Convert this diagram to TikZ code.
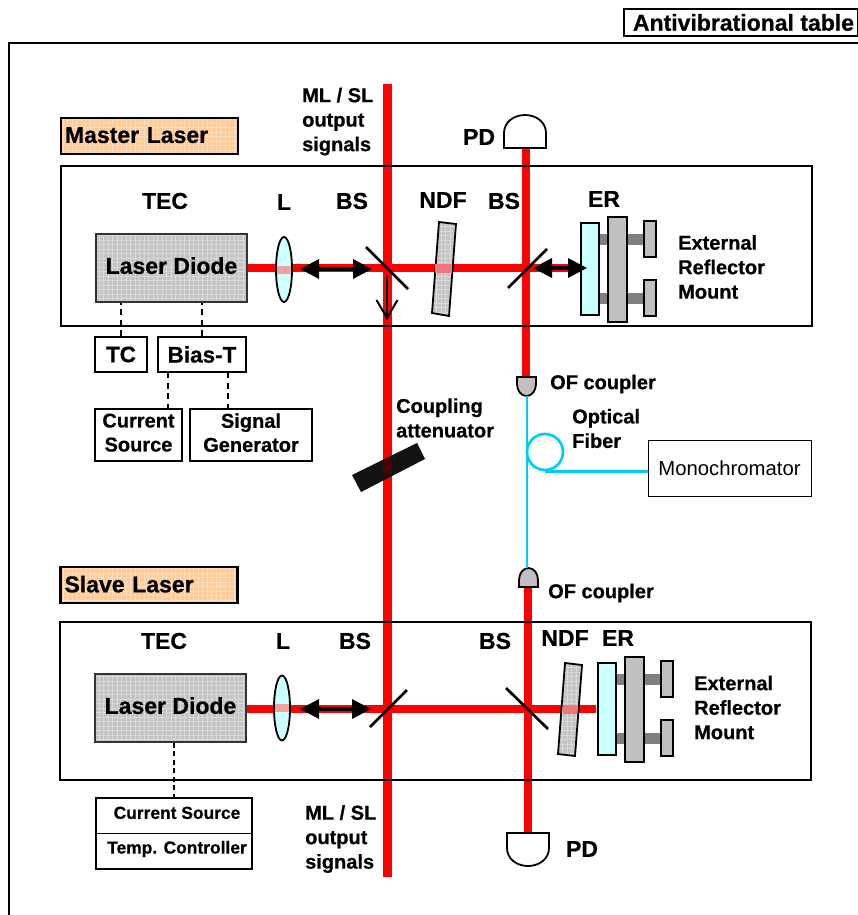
\documentclass[tikz,border=0pt]{standalone}
\usepackage{fontspec}
\setmainfont[BoldFeatures={FakeBold=0.6}]{Liberation Sans}
\usetikzlibrary{arrows.meta, patterns.meta, positioning}
\definecolor{beamred}{HTML}{FF0000}
\definecolor{fiberblue}{HTML}{00CCFF}
\definecolor{lenscyan}{HTML}{CCFFFF}
\definecolor{peach}{HTML}{FFCC99}
\definecolor{diodegrey}{HTML}{C4C4C4}
\definecolor{mountgrey}{HTML}{C0C0C0}
\definecolor{rodgrey}{HTML}{808080}
\definecolor{patchred}{HTML}{EE7777}
\tikzset{
  lblbig/.style={inner sep=0pt, font=\fontsize{23}{24.5}\selectfont\bfseries},
  lbl/.style={inner sep=0pt, font=\fontsize{20}{24.5}\selectfont\bfseries, align=left},
  lbltiny/.style={inner sep=0pt, font=\fontsize{17.4}{20}\selectfont\bfseries},
  gridfill/.style={preaction={fill=#1}, pattern={Hatch[angle=0,distance=4.5pt,line width=.5pt]}, pattern color=white!35!#1},
  ldbox/.style={lblbig, draw=black!80, line width=1.5pt, gridfill=diodegrey, minimum width=151pt, minimum height=68pt, text depth=5pt},
  tagbox/.style={lblbig, draw, line width=2.5pt, gridfill=peach, inner xsep=4pt, inner ysep=0pt, minimum height=36pt, text width=169pt, align=left, text depth=2pt},
  ctlbox/.style={draw, line width=1.5pt, inner sep=0pt, align=center},
  beam/.style={draw=beamred, line width=8pt},
  fiber/.style={draw=fiberblue, line width=2.7pt},
  wire/.style={dash pattern=on 6pt off 4.5pt, line width=1.8pt},
  mirror/.style={line width=2.7pt},
  dbl/.style={{Triangle[length=19pt,width=19pt]}-{Triangle[length=19pt,width=19pt]}, line width=3.2pt},
}
\begin{document}
\begin{tikzpicture}[x=1pt, y=-1pt]
\useasboundingbox (0,0) rectangle (858,915);
\draw [beam, line width=9pt] (387,84) -- (387,877);
\draw [beam] (526,148) -- (526,378);
\draw [beam] (528,587) -- (528,833);
\draw [beam] (247,268) -- (581,268);
\draw [beam] (246,709) -- (596,709);
\draw [line width=2.5pt] (9,916) -- (9,43) -- (859,43);
\draw [line width=2.8pt] (61,166) rectangle (812,326);
\draw [line width=2.8pt] (60,622) rectangle (811,780);
\node [draw, line width=2pt, inner sep=0pt, minimum width=234pt, minimum height=27pt, lblbig, font=\fontsize{23}{24.5}\selectfont\bfseries] (table) at (741,22.5) {\hspace{5pt}Antivibrational table};
\node [tagbox] (mltag) at (149.5,136) {Master Laser};
\node [tagbox] (sltag) at (149,585) {Slave Laser};
\node [ldbox] (ldm) at (171.5,268) {Laser Diode};
\node [ldbox] (lds) at (170.5,708) {Laser Diode};
\foreach \x/\y in {284/269.5, 282/708}
  {
  \draw [fill=lenscyan, line width=1.8pt] (\x,\y) ellipse (8pt and 32.5pt);
  \fill [patchred!70!white] (\x-7,\y-4) rectangle (\x+7,\y+4);
  }
\draw [mirror] (366,247) -- (408,289);
\draw [mirror] (508,288) -- (547,249);
\draw [mirror] (370,727) -- (407,690);
\draw [mirror] (506,688) -- (548,729);
\draw [-{Straight Barb[length=18pt,width=21pt]}, line width=2pt] (387,275) -- (387,320);
\draw [gridfill=diodegrey, line width=1.8pt] (439,222) -- (456,224) -- (449,316) -- (432,313) -- cycle;
\fill [patchred] (435,264) rectangle (452,273);
\draw [gridfill=diodegrey, line width=1.8pt] (565,663) -- (582,665) -- (575,756) -- (558,754) -- cycle;
\fill [patchred] (563,705) rectangle (577,714);
\foreach \dx/\dy in {0/0, 17/440}
  {
  \begin{scope}[shift={(\dx,\dy)}]
  \fill [rodgrey] (599,234) rectangle (644,245);
  \fill [rodgrey] (599,293) rectangle (644,304);
  \draw [fill=lenscyan, line width=1.8pt] (581,223) rectangle (599,315);
  \draw [fill=mountgrey, line width=2pt] (608,217) rectangle (627,322);
  \draw [fill=mountgrey, line width=1.5pt] (644,221) rectangle (656,257);
  \draw [fill=mountgrey, line width=1.5pt] (644,280) rectangle (656,316);
  \end{scope}
  }
\draw [dbl] (300,269) -- (372,269);
\draw [dbl] (300,709) -- (371,709);
\draw [dbl] (533,268) -- (587,268);
\foreach \cx/\cy/\dir in {525/148/1, 528/833/-1}
  \draw [shift={(\cx,\cy)}, yscale=\dir, fill=white, line width=1.8pt] (-21,0) -- (-21,-15) .. controls (-21,-26) and (-11,-33) .. (0,-33) .. controls (11,-33) and (21,-26) .. (21,-15) -- (21,0) -- cycle;
\foreach \cx/\cy/\dir in {526.5/377/-1, 528.5/587/1}
  \draw [shift={(\cx,\cy)}, yscale=\dir, fill=mountgrey, line width=1.8pt] (-9.5,0) -- (-9.5,-7) .. controls (-9.5,-14) and (-5,-19) .. (0,-19) .. controls (5,-19) and (9.5,-14) .. (9.5,-7) -- (9.5,0) -- cycle;
\fill [black!93] (352,475) -- (417,443) -- (425,459) -- (361,492) -- cycle;
\fill [red!30!black] (383,460) rectangle (392,474);
\coordinate (ofa) at (527,396);
\coordinate (ofb) at (527,568);
\draw [fiber] (ofa) -- (ofb);
\node [circle, fiber, inner sep=0pt, minimum size=36pt] (loop) at (545,452) {};
\node [draw, line width=1pt, inner sep=0pt, minimum width=163pt, minimum height=56pt, font=\fontsize{20.3}{24}\selectfont] (mono) at (729.5,468) {Monochromator};
\draw [fiber] (loop.south) -- (loop.south -| mono.west);
\node [ctlbox, lblbig, minimum width=52pt, minimum height=35pt, font=\fontsize{22.5}{24}\selectfont\bfseries] (tc) at (121,354.5) {TC};
\node [ctlbox, lblbig, minimum width=88pt, minimum height=35pt, font=\fontsize{22.5}{24}\selectfont\bfseries] (biast) at (202,354.5) {Bias-T};
\node [ctlbox, lbl, align=center, minimum width=87pt, minimum height=52pt, font=\fontsize{20}{24}\selectfont\bfseries] (csrc) at (138.5,435) {Current\\Source\rule[-5pt]{0pt}{5pt}};
\node [ctlbox, lbl, align=center, minimum width=122pt, minimum height=52pt, font=\fontsize{20}{24}\selectfont\bfseries] (sgen) at (251,435) {Signal\\Generator\rule[-5pt]{0pt}{5pt}};
\node [ctlbox, lbltiny, minimum width=156pt, minimum height=35.5pt, text depth=6pt] (csrcs) at (174,815.75) {\hspace{6pt}Current Source};
\node [ctlbox, lbltiny, minimum width=156pt, minimum height=35.5pt, text depth=8pt] (tctl) at (174,851.25) {\hspace{6pt}Temp. Controller};
\coordinate (bt1) at (168,372);
\coordinate (bt2) at (228,372);
\draw [wire, line width=1.3pt] (tc.north) -- (tc.north |- ldm.south);
\draw [wire, line width=1.3pt] (biast.north) -- (biast.north |- ldm.south);
\draw [wire] (bt1) -- (bt1 |- csrc.north);
\draw [wire] (bt2) -- (bt2 |- sgen.north);
\draw [wire, dash pattern=on 5pt off 3.5pt, line width=1.3pt] (lds.south -| csrcs.north) -- (csrcs.north);
\node [lblbig] (tecm) at (165,201) {TEC};
\node [lblbig] (lensm) at (284,202) {L};
\node [lblbig] (bsm1) at (352,201) {BS};
\node [lblbig] (ndfm) at (443,200) {NDF};
\node [lblbig] (bsm2) at (504,201) {BS};
\node [lblbig] (erm) at (604,199) {ER};
\node [lblbig] (pdm) at (479,137) {PD};
\node [lblbig] (tecs) at (164,641) {TEC};
\node [lblbig] (lenss) at (283,641) {L};
\node [lblbig] (bss1) at (355,641) {BS};
\node [lblbig] (bss2) at (495,641) {BS};
\node [lblbig] (ndfs) at (565,638) {NDF};
\node [lblbig] (ers) at (618,638) {ER};
\node [lblbig] (pds) at (582,849) {PD};
\node [lbl, anchor=west] (outm) at (302,121.5) {ML / SL\\output\\signals};
\node [lbl, anchor=west] (outs) at (305,839) {ML / SL\\output\\signals};
\node [lbl, anchor=west] (mntm) at (678,267) {External\\Reflector\\Mount};
\node [lbl, anchor=west] (mnts) at (694,707.5) {External\\Reflector\\Mount};
\node [lbl, anchor=west] (att) at (396,418) {Coupling\\attenuator};
\node [lbl, anchor=west] (ofm) at (550,384) {OF coupler};
\node [lbl, anchor=west] (ofs) at (548,593) {OF coupler};
\node [lbl, anchor=west] (fib) at (572,428.5) {Optical\\Fiber};
\end{tikzpicture}
\end{document}
